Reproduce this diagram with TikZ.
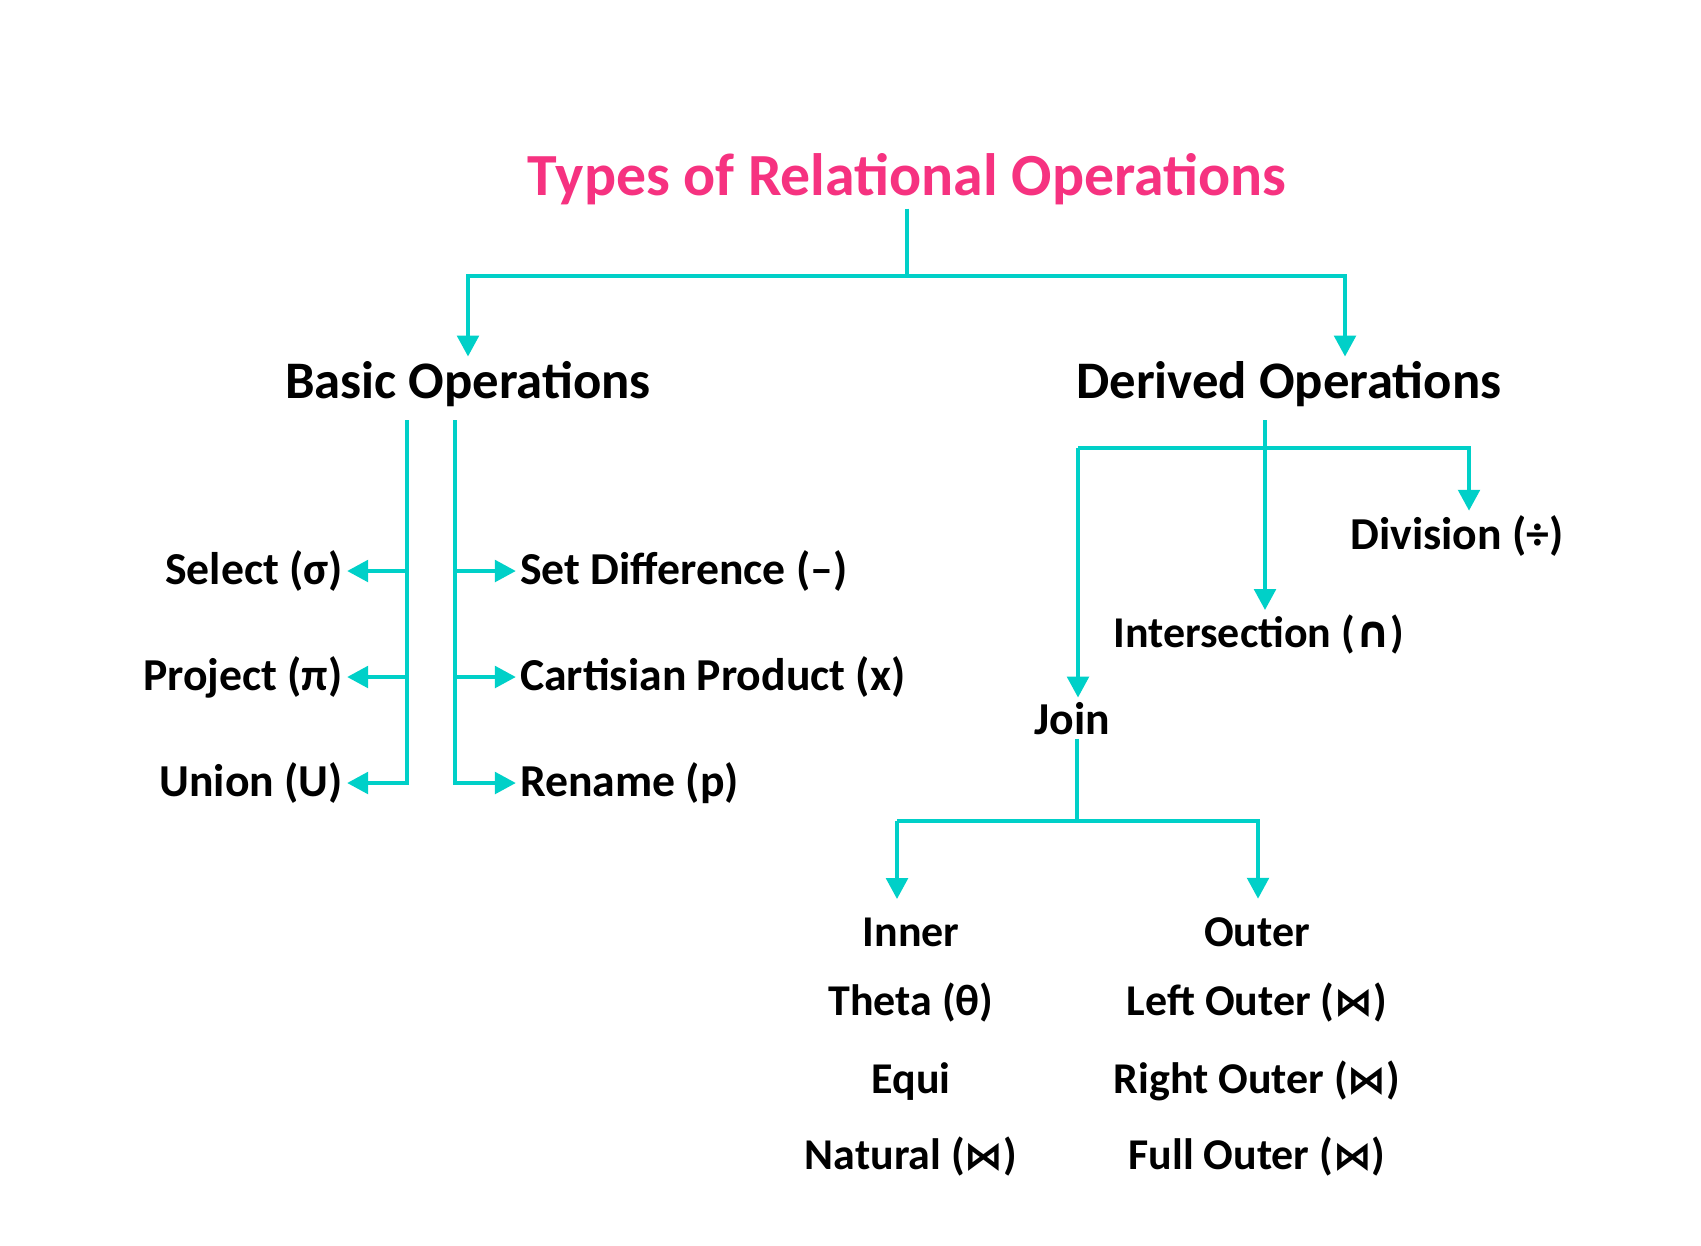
\documentclass[tikz,border=0pt]{standalone}
\usepackage{fontspec}
\setmainfont{Carlito}
\newfontfamily\symfont{DejaVu Sans}
\usetikzlibrary{arrows.meta}
\definecolor{titlepink}{RGB}{246,50,128}
\definecolor{linkteal}{RGB}{0,208,200}
\newcommand{\jn}{\scalebox{0.88}{\symfont ⋈}}

\begin{document}
\begin{tikzpicture}[x=0.01cm, y=-0.01cm,
				>={Triangle[length=6pt,width=6pt]},   %arrow tips
				link/.style={draw=linkteal, line width=1.4pt},
				headline/.style={font=\fontsize{17}{20}\selectfont\bfseries, text=titlepink, inner sep=1pt},
				group/.style={font=\fontsize{15}{18}\selectfont\bfseries, inner sep=1pt},
				item/.style={font=\fontsize{13}{15}\selectfont\bfseries, inner sep=1pt},
				subitem/.style={font=\fontsize{12.5}{15}\selectfont\bfseries, inner sep=1pt}]
				%frame
				\fill[white] (0,0) rectangle (1701,1245);
				\useasboundingbox (0,0) rectangle (1701,1245);
				% titles
				\node[headline, anchor=base] (title) at (907,195) {Types of Relational Operations};
				\node[group, anchor=base] (basic) at (468,398) {Basic Operations};
				\node[group, anchor=base] (derived) at (1289,398) {Derived Operations};
				% basic operations
				\node[item, anchor=east] (sel) at (347,571) {Select (σ)};
				\node[item, anchor=east] (proj) at (347,677) {Project (π)};
				\node[item, anchor=east] (uni) at (347,783) {Union (U)};
				\node[item, anchor=west] (diff) at (516,571) {Set Difference (–)};
				\node[item, anchor=west] (prod) at (516,677) {Cartisian Product (x)};
				\node[item, anchor=west] (ren) at (516,783) {Rename (p)};
				% derived operations
				\node[item, anchor=base] (div) at (1457,549) {Division (÷)};
				\node[subitem, anchor=base] (inter) at (1259,647) {Intersection ({\symfont ∩})};
				\node[item, anchor=base] (join) at (1072,734) {Join};
				\node[subitem, anchor=base] (inner) at (911,946) {Inner};
				\node[subitem, anchor=base] (outer) at (1257,946) {Outer};
				\node[subitem, anchor=base] (theta) at (911,1015) {Theta (θ)};
				\node[subitem, anchor=base] (equi) at (911,1093) {Equi};
				\node[subitem, anchor=base] (natural) at (911,1169) {Natural (\jn)};
				\node[subitem, anchor=base] (left) at (1257,1015) {Left Outer (\jn)};
				\node[subitem, anchor=base] (right) at (1257,1093) {Right Outer (\jn)};
				\node[subitem, anchor=base] (full) at (1257,1169) {Full Outer (\jn)};
				% junction points
				\coordinate (tj) at (907,276);
				\coordinate (tl) at (468,276);
				\coordinate (tr) at (1345,276);
				\coordinate (bl) at (407,420);
				\coordinate (br) at (455,420);
				\coordinate (dv) at (1265,420);
				\coordinate (dl) at (1078,448);
				\coordinate (dr) at (1469,448);
				\coordinate (jj) at (1077,821);
				\coordinate (jl) at (897,821);
				\coordinate (jr) at (1258,821);
				% connectors
				\draw[link] (title.south) -- (tj);
				\draw[link, ->] (tj) -- (tl) -- (tl |- basic.north);
				\draw[link, ->] (tj) -- (tr) -- (tr |- derived.north);
				\draw[link, ->] (bl) |- (uni);
				\draw[link, ->] (bl |- sel) -- (sel);
				\draw[link, ->] (bl |- proj) -- (proj);
				\draw[link, ->] (br) |- (ren);
				\draw[link, ->] (br |- diff) -- (diff);
				\draw[link, ->] (br |- prod) -- (prod);
				\draw[link, ->] (dv) -- (dv |- inter.north);
				\draw[link, ->] (dl) -- (dr) -- (dr |- div.north);
				\draw[link, ->] (dl) -- (dl |- join.north);
				\draw[link] (jj |- join.south) -- (jj);
				\draw[link, ->, shorten >=4pt] (jl) -- (jr) -- (jr |- outer.north);
				\draw[link, ->, shorten >=4pt] (jl) -- (jl |- inner.north);
			\end{tikzpicture}
\end{document}
